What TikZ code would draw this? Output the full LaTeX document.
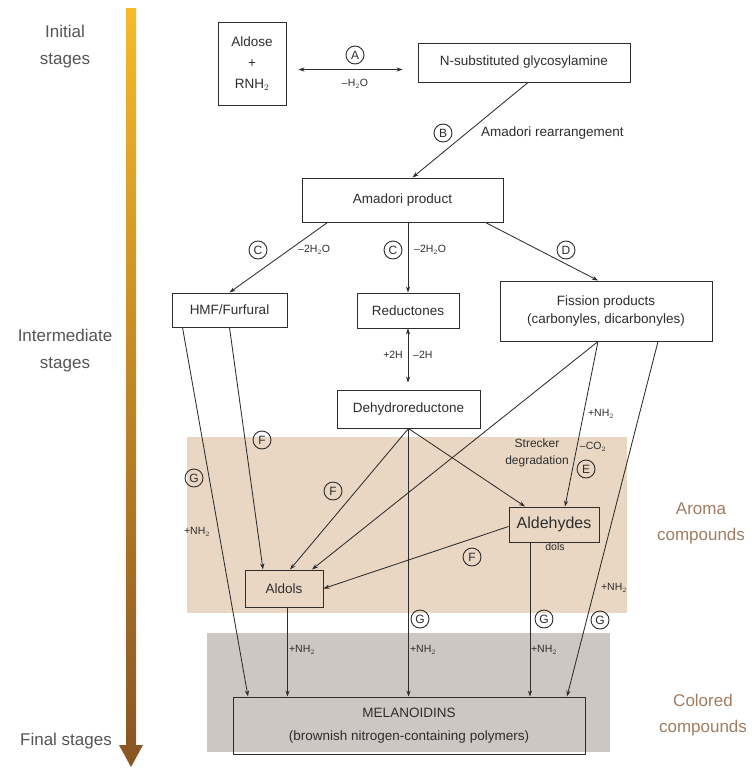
\documentclass[tikz,border=0pt]{standalone}
\usepackage{fontspec}
\setmainfont{Liberation Sans}
\usetikzlibrary{arrows.meta}
\definecolor{Ink}{RGB}{45,45,45}
\definecolor{Grey}{RGB}{85,85,85}
\definecolor{Aroma}{RGB}{234,215,195}
\definecolor{Colored}{RGB}{206,198,195}
\definecolor{StageTop}{RGB}{246,186,42}
\definecolor{StageMid}{RGB}{214,142,42}
\definecolor{StageBot}{RGB}{140,86,36}
\definecolor{Tan}{RGB}{160,124,96}

\tikzset{
	box/.style={draw=Ink, line width=1pt, align=center, text=Ink, inner sep=2pt, font=\fontsize{13.5}{18}\selectfont},
	react/.style={draw=Ink, line width=0.85pt, -{Stealth[length=6pt, width=4.2pt]}},
	both/.style={react, {Stealth[length=6pt, width=4.2pt]}-{Stealth[length=6pt, width=4.2pt]}},
	letter/.style={circle, draw=Ink, line width=0.9pt, minimum size=18pt, inner sep=0pt, text=Ink, font=\fontsize{12}{12}\selectfont},
	cond/.style={text=Ink, inner sep=1pt, font=\fontsize{10.5}{12}\selectfont},
	stage/.style={align=center, text=Grey, font=\fontsize{17}{27}\selectfont},
	group/.style={align=center, text=Tan, font=\fontsize{17}{26}\selectfont}
}

\begin{document}
\begin{tikzpicture}[x=1pt, y=-1pt]
		\useasboundingbox (0,0) rectangle (752,771);
		
		% Regions
		\fill[Aroma] (187,437) rectangle (627,613);
		\fill[Colored] (207,633) rectangle (610,752);
		
		% Stage arrow
		\shade[top color=StageTop, middle color=StageMid, bottom color=StageBot] (126,8) rectangle (136,746);
		\fill[StageBot] (119,745) -- (143,745) -- (131,767) -- cycle;
		
		% Stages
		\node[stage] (initial) at (65,47) {Initial\\stages};
		\node[stage] (inter) at (65,351) {Intermediate\\stages};
		\node[stage] (final) at (66,741) {Final stages};
		\node[group] (aromalab) at (701,523) {Aroma\\compounds};
		\node[group] (colorlab) at (703,715) {Colored\\compounds};
		
		% Boxes
		\node[box, minimum width=68pt, minimum height=83pt, font=\fontsize{13.5}{21}\selectfont] (aldose) at (252,63.5) {Aldose\\+\\RNH$_2$};
		\node[box, minimum width=212pt, minimum height=39pt] (glyco) at (524,62.5) {N-substituted glycosylamine};
		\node[box, minimum width=201pt, minimum height=44pt] (amadori) at (402.5,200) {Amadori product};
		\node[box, minimum width=115pt, minimum height=34pt] (hmf) at (229.5,310) {HMF/Furfural};
		\node[box, minimum width=102pt, minimum height=35pt] (reduct) at (408,310.5) {Reductones};
		\node[box, minimum width=212pt, minimum height=60pt] (fission) at (606,311) {Fission products\\(carbonyles, dicarbonyles)};
		\node[box, minimum width=143pt, minimum height=38pt] (dehydro) at (408.5,409) {Dehydroreductone};
		\node[box, minimum width=90pt, minimum height=35pt, font=\fontsize{16}{18}\selectfont] (aldehydes) at (554,524.5) {Aldehydes};
		\node[box, minimum width=78pt, minimum height=37pt] (aldols) at (284,588.5) {Aldols};
		\node[box, minimum width=352pt, minimum height=57pt, font=\fontsize{13.5}{23}\selectfont] (melan) at (409,725.5) {MELANOIDINS\\(brownish nitrogen-containing polymers)};
		
		% Arrows
		\draw[both, shorten <=12pt, shorten >=15pt] ([yshift=-6pt]aldose.east) -- ([yshift=-7pt]glyco.west);
		\draw[react] ([xshift=4pt]glyco.south) -- ([xshift=10pt]amadori.north);
		\draw[react] ([xshift=-75pt]amadori.south) -- (hmf.north);
		\draw[react] (reduct.north |- amadori.south) -- (reduct.north);
		\draw[react] ([xshift=83pt]amadori.south) -- ([xshift=-8pt]fission.north);
		\draw[both, shorten >=7pt] (reduct.south) -- (reduct.south |- dehydro.north);
		
		\draw[react] ([xshift=-47pt]hmf.south) -- ([xshift=-161pt]melan.north);
		\draw[react] (hmf.south) -- ([xshift=-21pt]aldols.north);
		\draw[react] (dehydro.south) -- ([xshift=6pt]aldols.north);
		\draw[react] ([xshift=-8pt]fission.south) -- ([xshift=28pt]aldols.north);
		\draw[react] (dehydro.south) -- (dehydro.south |- melan.north);
		\draw[react] (dehydro.south) -- ([xshift=-29pt]aldehydes.north);
		\draw[react] ([xshift=-8pt]fission.south) -- ([xshift=11pt]aldehydes.north);
		\draw[react] ([xshift=52pt]fission.south) -- ([xshift=158pt]melan.north);
		\draw[react] ([yshift=-2pt]aldehydes.west) -- (aldols.east);
		\draw[react] ([xshift=-24pt]aldehydes.south) -- ([xshift=-24pt]aldehydes.south |- melan.north);
		\draw[react] ([xshift=3.5pt]aldols.south) -- ([xshift=3.5pt]aldols.south |- melan.north);
		
		% Letters
		\node[letter] (la) at (355,55) {A};
		\node[letter] (lb) at (443,133) {B};
		\node[letter] (lc1) at (258,250) {C};
		\node[letter] (lc2) at (393,250) {C};
		\node[letter] (ld) at (566,250) {D};
		\node[letter] (le) at (586,469) {E};
		\node[letter] (lf1) at (262,440) {F};
		\node[letter] (lf2) at (333,491) {F};
		\node[letter] (lf3) at (472,557) {F};
		\node[letter] (lg1) at (194,478) {G};
		\node[letter] (lg2) at (420,619) {G};
		\node[letter] (lg3) at (544,619) {G};
		\node[letter] (lg4) at (600,620) {G};
		
		% Conditions
		\node[cond] (water) at (355,84) {--H$_2$O};
		\node[cond, anchor=west, font=\fontsize{13.5}{15}\selectfont] (amarr) at (480,133) {Amadori rearrangement};
		\node[cond, anchor=west] (dehyd1) at (297,250) {--2H$_2$O};
		\node[cond, anchor=west] (dehyd2) at (413,250) {--2H$_2$O};
		\node[cond, anchor=east] (plush) at (404,355) {+2H};
		\node[cond, anchor=west] (minush) at (412,355) {--2H};
		\node[cond] (nh1) at (197,532) {+NH$_2$};
		\node[cond] (nh2) at (601,414) {+NH$_2$};
		\node[cond] (co2) at (593,447) {--CO$_2$};
		\node[cond, align=center, font=\fontsize{12}{17}\selectfont] (strecker) at (537,453) {Strecker\\degradation};
		\node[cond] (dols) at (555,547) {dols};
		\node[cond] (nh3) at (302,650) {+NH$_2$};
		\node[cond] (nh4) at (423,650) {+NH$_2$};
		\node[cond] (nh5) at (544,650) {+NH$_2$};
		\node[cond] (nh6) at (614,588) {+NH$_2$};
		
	\end{tikzpicture}
\end{document}
